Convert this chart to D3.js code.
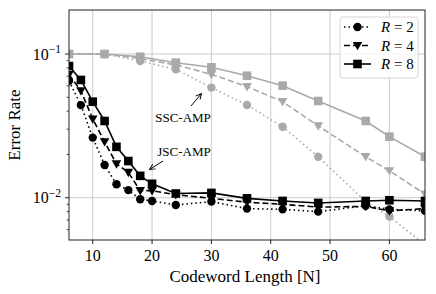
<!DOCTYPE html>
<html><head><meta charset="utf-8">
<script src="https://cdn.jsdelivr.net/npm/d3@7"></script>
<style>body{margin:0;background:#fff}svg{display:block}text{font-family:"Liberation Serif","DejaVu Serif",serif}</style>
</head><body><svg id="c" width="436" height="294"></svg>
<script>
const jscN = [6,8,10,12,14,16,18,20,24,30,36,42,48,56,60,66];
const jscR2 = [0.065,0.0441,0.0262,0.0169,0.0124,0.0113,0.00975,0.0095,0.0089,0.0094,0.0084,0.0083,0.0080,0.0088,0.0083,0.0081];
const jscR4 = [0.072,0.0555,0.0353,0.0245,0.0172,0.0150,0.0112,0.0112,0.0105,0.0099,0.0093,0.0090,0.0086,0.0087,0.0081,0.0084];
const jscR8 = [0.0825,0.066,0.0466,0.0342,0.0226,0.018,0.0142,0.0125,0.0107,0.0108,0.0099,0.0095,0.0092,0.0095,0.0096,0.0095];
const sscN = [6,12,18,24,30,36,42,48,56,60,66];
const sscR2 = [0.1,0.1,0.0894,0.0782,0.0584,0.0442,0.0312,0.0193,0.0094,0.0074,0.0047];
const sscR4 = [0.1,0.1,0.093,0.084,0.0722,0.0593,0.0466,0.0316,0.0193,0.0154,0.0106];
const sscR8 = [0.1,0.1,0.0957,0.087,0.0808,0.0706,0.0602,0.0471,0.0342,0.0266,0.0193];
const xTicks = [10,20,30,40,50,60];
const yTicks = [0.1,0.01];
const legendLabels = ["2","4","8"];

const svg = d3.select("#c");
const L=69,R=425,T=10,B=240;
const x = d3.scaleLinear().domain([6,66]).range([L,R]);
const y = d3.scaleLog().domain([0.00508,0.2024]).range([B,T]);
const grey="#a9a9a9", black="#000";
const styles = [
  {dash:"1.5,3", marker:"circle"},
  {dash:"6,3", marker:"tri"},
  {dash:null, marker:"square"}
];
svg.append("defs").append("clipPath").attr("id","clip").append("rect").attr("x",L).attr("y",T).attr("width",R-L).attr("height",B-T);
// grid
const g = svg.append("g");
g.selectAll(".gx").data(xTicks).join("line").attr("x1",d=>x(d)).attr("x2",d=>x(d)).attr("y1",T).attr("y2",B).attr("stroke","#cbcbcb").attr("stroke-width",1);
g.selectAll(".gy").data(yTicks).join("line").attr("y1",d=>y(d)).attr("y2",d=>y(d)).attr("x1",L).attr("x2",R).attr("stroke","#cbcbcb").attr("stroke-width",1);

function marker(sel, type, cx, cy, color){
  if(type==="circle") sel.append("circle").attr("cx",cx).attr("cy",cy).attr("r",4.2).attr("fill",color);
  else if(type==="square") sel.append("rect").attr("x",cx-4.3).attr("y",cy-4.3).attr("width",8.6).attr("height",8.6).attr("fill",color);
  else sel.append("path").attr("d",`M${cx-4.8},${cy-3.6}L${cx+4.8},${cy-3.6}L${cx},${cy+4.8}Z`).attr("fill",color);
}
const plot = svg.append("g").attr("clip-path","url(#clip)");
function series(xs, ys, st, color){
  const line = d3.line().x((d,i)=>x(xs[i])).y(d=>y(d));
  plot.append("path").attr("d",line(ys)).attr("fill","none").attr("stroke",color).attr("stroke-width",1.6)
    .attr("stroke-dasharray",st.dash);
  ys.forEach((v,i)=>marker(plot, st.marker, x(xs[i]), y(v), color));
}
[sscR2,sscR4,sscR8].forEach((s,i)=>series(sscN,s,styles[i],grey));
[jscR2,jscR4,jscR8].forEach((s,i)=>series(jscN,s,styles[i],black));

// axes
const ax = svg.append("g");
ax.append("rect").attr("x",L).attr("y",T).attr("width",R-L).attr("height",B-T).attr("fill","none").attr("stroke","#222").attr("stroke-width",1);
xTicks.forEach(t=>{
  ax.append("line").attr("x1",x(t)).attr("x2",x(t)).attr("y1",B).attr("y2",B+4).attr("stroke","#222");
  ax.append("text").attr("x",x(t)).attr("y",B+21).attr("text-anchor","middle").attr("font-size",16).text(t);
});
const minor=[];
for(let k=2;k<=9;k++){minor.push(k*0.01);minor.push(k*0.001);}
minor.filter(v=>v>=0.00508&&v<=0.2024).forEach(v=>{
  ax.append("line").attr("y1",y(v)).attr("y2",y(v)).attr("x1",L-2.5).attr("x2",L).attr("stroke","#222").attr("stroke-width",0.8);
});
yTicks.forEach(t=>{
  ax.append("line").attr("y1",y(t)).attr("y2",y(t)).attr("x1",L-4).attr("x2",L).attr("stroke","#222");
  const e = Math.round(Math.log10(t));
  const tx = ax.append("text").attr("x",L-8).attr("y",y(t)+5.5).attr("text-anchor","end").attr("font-size",16);
  tx.append("tspan").text("10");
  tx.append("tspan").attr("font-size",11.5).attr("dy",-6.5).text("\u2212"+(-e));
});
svg.append("text").attr("x",(L+R)/2 - 2).attr("y",282).attr("text-anchor","middle").attr("font-size",17).text("Codeword Length [N]");
svg.append("text").attr("transform",`translate(20,${(T+B)/2}) rotate(-90)`).attr("text-anchor","middle").attr("font-size",17).text("Error Rate");

// annotations
svg.append("defs").append("marker").attr("id","ah").attr("viewBox","0 0 10 10").attr("refX",9).attr("refY",5)
 .attr("markerWidth",7).attr("markerHeight",7).attr("orient","auto-start-reverse")
 .append("path").attr("d","M1,1L9,5L1,9").attr("fill","none").attr("stroke","#000").attr("stroke-width",1.3);
svg.append("text").attr("x",183).attr("y",122).attr("text-anchor","middle").attr("font-size",13).text("SSC-AMP");
svg.append("line").attr("x1",191).attr("y1",106).attr("x2",201.5).attr("y2",93.5).attr("stroke","#000").attr("stroke-width",1).attr("marker-end","url(#ah)");
svg.append("text").attr("x",184).attr("y",156).attr("text-anchor","middle").attr("font-size",13).text("JSC-AMP");
svg.append("line").attr("x1",163).attr("y1",161).attr("x2",149.5).attr("y2",169.5).attr("stroke","#000").attr("stroke-width",1).attr("marker-end","url(#ah)");

// legend
const lg = svg.append("g");
lg.append("rect").attr("x",340).attr("y",17).attr("width",78).attr("height",61).attr("rx",3).attr("fill","#fff").attr("fill-opacity",0.8).attr("stroke","#d6d6d6");
legendLabels.forEach((lab,i)=>{
  const yy = 27+i*18.5;
  lg.append("line").attr("x1",344).attr("x2",371).attr("y1",yy).attr("y2",yy).attr("stroke","#000").attr("stroke-width",1.6).attr("stroke-dasharray",styles[i].dash);
  marker(lg, styles[i].marker, 357.5, yy, "#000");
  const t = lg.append("text").attr("x",381).attr("y",yy+5).attr("font-size",15);
  t.append("tspan").attr("font-style","italic").text("R");
  t.append("tspan").text(" = "+lab);
});
</script></body></html>
